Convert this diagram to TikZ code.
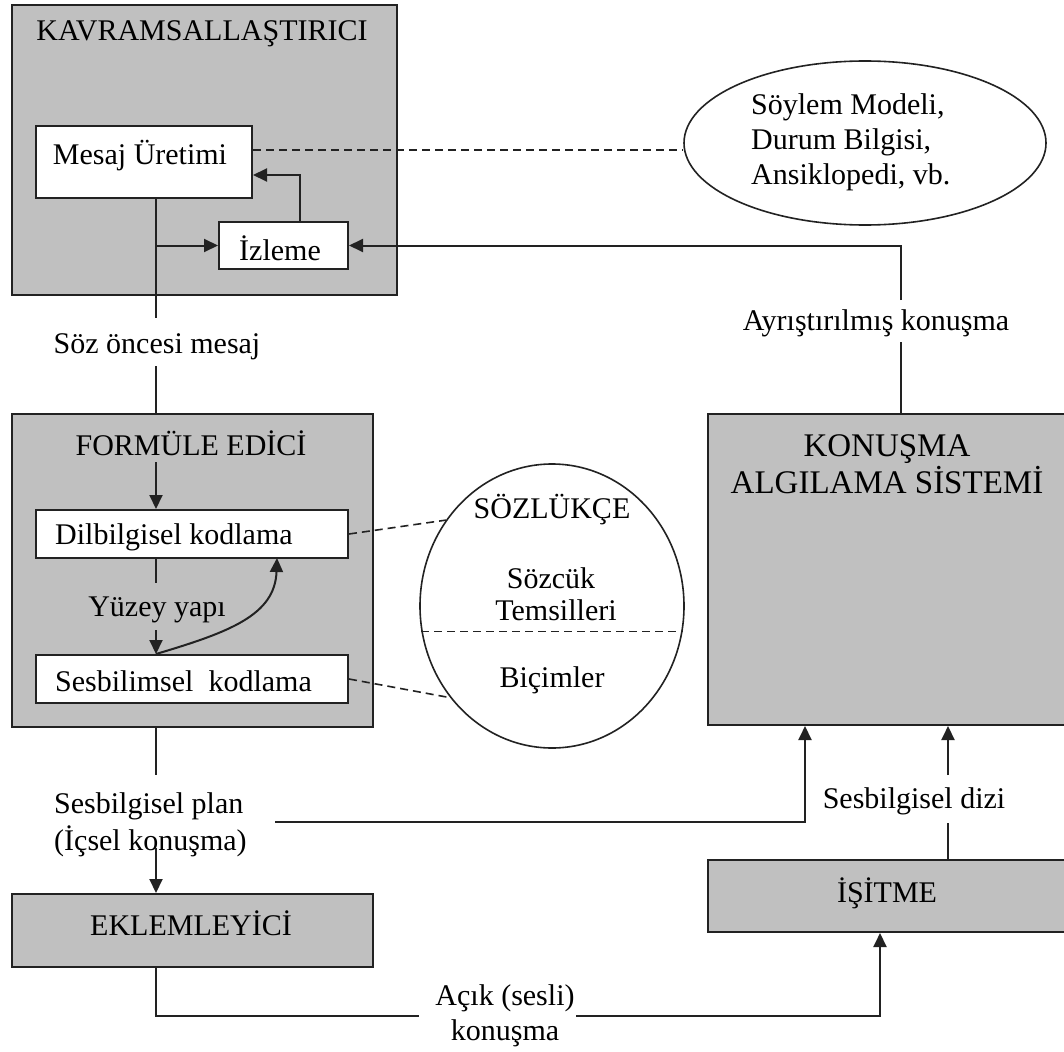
\documentclass[tikz,border=0pt]{standalone}
\usepackage{fontspec}
\setmainfont{Liberation Serif}
\usetikzlibrary{arrows.meta,shapes.geometric}
\definecolor{gfill}{HTML}{C0C0C0}
\definecolor{edge}{HTML}{222222}
\begin{document}
\begin{tikzpicture}[x=1pt,y=-1pt,
  every node/.style={font=\fontsize{30}{36}\selectfont, inner sep=0pt},
  graybox/.style={draw=edge, line width=2pt, fill=gfill},
  whitebox/.style={draw=edge, line width=2pt, fill=white},
  ln/.style={draw=edge, line width=2pt},
  arr/.style={draw=edge, line width=2pt, -{Triangle[length=14pt,width=13pt]}},
  dsh/.style={draw=edge, line width=1.6pt, dash pattern=on 8pt off 5pt},
  oval/.style={draw=edge, line width=1.6pt, ellipse, fill=white}]
\useasboundingbox (0,0) rectangle (1064,1051);
\fill[white] (0,0) rectangle (1064,1051);

% gray boxes
\node[graybox, minimum width=385pt, minimum height=290pt] (kav) at (204.5,150) {};
\node[graybox, minimum width=361pt, minimum height=313pt] (form) at (192.5,570.5) {};
\node[graybox, minimum width=361pt, minimum height=73pt] (ekle) at (192.5,930.5) {};
\node[graybox, minimum width=360pt, minimum height=311pt] (konusma) at (888,569.5) {};
\node[graybox, minimum width=360pt, minimum height=72pt] (isitme) at (888,896) {};

% white boxes
\node[whitebox, minimum width=216pt, minimum height=72pt] (mesaj) at (144,162) {};
\node[whitebox, minimum width=129pt, minimum height=47pt] (izleme) at (283.5,245.5) {};
\node[whitebox, minimum width=312pt, minimum height=48pt] (dil) at (192,534) {};
\node[whitebox, minimum width=312pt, minimum height=48pt] (ses) at (192,679) {};

% ellipses
\node[oval, minimum width=362pt, minimum height=164pt] (el1) at (865,143) {};
\node[oval, minimum width=264pt, minimum height=284pt] (el2) at (552,606) {};

% texts
\node (kavt) at (202,34) {KAVRAMSALLAŞTIRICI};
\node (mesajt) at (140,156) {Mesaj Üretimi};
\node (izlemet) at (280,248) {İzleme};
\node (formt) at (191,443) {FORMÜLE EDİCİ};
\node[anchor=west] (dilt) at (55,537) {Dilbilgisel kodlama};
\node[anchor=west] (sest) at (55,681) {Sesbilimsel\ \ kodlama};
\node (eklet) at (191,923) {EKLEMLEYİCİ};
\node[align=center, font=\fontsize{33}{37}\selectfont] (konusmat) at (887,464) {KONUŞMA\\ALGILAMA SİSTEMİ};
\node (isitmet) at (887,893) {İŞİTME};
\node[anchor=west, align=left, font=\fontsize{30}{35}\selectfont] (el1t) at (751,142) {Söylem Modeli,\\Durum Bilgisi,\\Ansiklopedi, vb.};
\node (sozl) at (552,510) {SÖZLÜKÇE};
\node (sozc) at (551,578) {Sözcük};
\node (tems) at (556,610) {Temsilleri};
\node (bicim) at (552,680) {Biçimler};
\node (soz) at (157,347) {Söz öncesi mesaj};
\node (ayr) at (876,323) {Ayrıştırılmış konuşma};
\node (yuz) at (157,610) {Yüzey yapı};
\node[anchor=west, align=left, font=\fontsize{30}{37}\selectfont] (plan) at (54,825) {Sesbilgisel plan\\(İçsel konuşma)};
\node (dizi) at (914,801) {Sesbilgisel dizi};
\node[align=center, font=\fontsize{30}{35}\selectfont] (acik) at (505,1016) {Açık (sesli)\\konuşma};

% coordinates
\coordinate (t1) at (156,318);
\coordinate (t2) at (156,366);
\coordinate (r1) at (901,300);
\coordinate (r2) at (901,342);
\coordinate (f1) at (156,462);
\coordinate (f2) at (156,583);
\coordinate (f3) at (156,630);
\coordinate (ce) at (277,558);
\coordinate (b1) at (156,775);
\coordinate (b2) at (156,848);
\coordinate (p1) at (275,822);
\coordinate (d1) at (948,823);
\coordinate (d2) at (948,775);
\coordinate (e1) at (156,1016);
\coordinate (e2) at (419,1016);
\coordinate (e3) at (576,1016);
\coordinate (e4) at (880,1016);

% KAVRAMSALLAŞTIRICI connectors
\draw[ln] (mesaj.south -| t1) -- (t1);
\draw[ln] (t2) -- (form.north -| t2);
\draw[arr] (izleme.west -| t1) -- (izleme.west);
\draw[arr] ([xshift=16.5pt]izleme.north) |- ([yshift=-13pt]mesaj.east);
\draw[dsh] ([yshift=12pt]mesaj.east) -- ([yshift=12pt]mesaj.east -| el1.west);
\draw[arr] (r1) |- (izleme.east);
\draw[ln] (konusma.north -| r2) -- (r2);

% FORMÜLE EDİCİ connectors
\draw[arr] (f1) -- (dil.north -| f1);
\draw[ln] (dil.south -| f2) -- (f2);
\draw[arr] (f3) -- (ses.north -| f3);
\draw[arr] (ses.north -| f3) .. controls (230,632) and (275,615) .. (ce);
\draw[dsh] (dil.east) -- (el2.141);
\draw[dsh] (ses.east) -- (el2.222);
\draw[dsh] (el2.191) -- (el2.-11);

% lower connectors
\draw[ln] (form.south -| b1) -- (b1);
\draw[arr] (b2) -- (ekle.north -| b2);
\draw[arr] (p1) -| ([xshift=-83pt]konusma.south);
\draw[ln] (isitme.north -| d1) -- (d1);
\draw[arr] (d2) -- (konusma.south -| d2);
\draw[ln] (ekle.south -| e1) -- (e1) -- (e2);
\draw[arr] (e3) -- (e4) -- (isitme.south -| e4);
\end{tikzpicture}
\end{document}
